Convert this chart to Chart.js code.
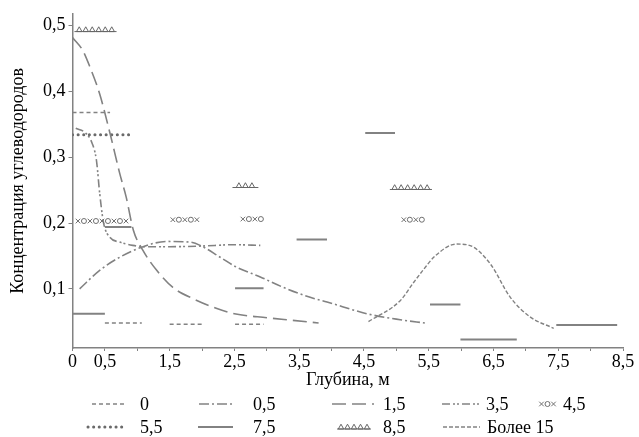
<!DOCTYPE html>
<html>
<head>
<meta charset="utf-8">
<script src="https://cdn.jsdelivr.net/npm/chart.js@4.4.1/dist/chart.umd.min.js"></script>
<style>
html, body { margin: 0; padding: 0; background: #fff; }
</style>
</head>
<body>
<canvas id="chart" width="639" height="437"></canvas>
<script>
// series names, in legend order
const seriesNames = ['0', '0,5', '1,5', '3,5', '4,5', '5,5', '7,5', '8,5', 'Более 15'];

// horizontal pieces: [x from, x to, value]
const seg0 = [[0, 0.58, 0.368], [0.5, 1.07, 0.048], [1.5, 2.02, 0.046], [2.51, 2.95, 0.046]];
const seg45 = [[0, 0.91, 0.203], [1.5, 1.97, 0.205], [2.54, 3.0, 0.206], [5.03, 5.48, 0.205]];
const seg55 = [[0, 0.91, 0.334]];
const seg75 = [[0, 0.5, 0.062], [0.5, 0.91, 0.194], [2.51, 2.95, 0.101], [3.46, 3.93, 0.175],
               [4.52, 4.98, 0.337], [5.52, 5.99, 0.076], [5.99, 6.86, 0.023], [7.47, 8.41, 0.045]];
const seg85 = [[0.03, 0.68, 0.494], [2.47, 2.87, 0.257], [4.9, 5.55, 0.254]];

// curves
const c05x = [0.11, 0.42, 0.73, 1.09, 1.45, 1.81, 1.97, 2.28, 2.53, 2.9, 3.26, 3.67, 3.93, 4.55, 5.06, 5.44];
const c05y = [0.1, 0.128, 0.148, 0.164, 0.172, 0.171, 0.166, 0.148, 0.133, 0.118, 0.102, 0.087, 0.08, 0.062, 0.053, 0.048];
const c15x = [0, 0.16, 0.27, 0.42, 0.58, 0.73, 0.83, 0.94, 1.09, 1.3, 1.55, 1.86, 2.23, 2.5, 3.0, 3.4, 3.8];
const c15y = [0.482, 0.462, 0.437, 0.396, 0.336, 0.275, 0.239, 0.189, 0.158, 0.128, 0.102, 0.085, 0.07, 0.062, 0.056, 0.052, 0.048];
const c35x = [0.05, 0.2, 0.3, 0.37, 0.42, 0.48, 0.58, 0.73, 0.93, 1.09, 1.5, 2.0, 2.5, 2.9];
const c35y = [0.344, 0.337, 0.322, 0.295, 0.245, 0.2, 0.178, 0.171, 0.166, 0.164, 0.164, 0.165, 0.167, 0.166];
const c15mx = [4.57, 5.06, 5.27, 5.41, 5.6, 5.93, 6.13, 6.45, 6.76, 7.07, 7.43];
const c15my = [0.05, 0.082, 0.11, 0.128, 0.15, 0.168, 0.166, 0.138, 0.087, 0.057, 0.04];

// ticks
const xTicks = [0, 0.5, 1, 1.5, 2, 2.5, 3, 3.5, 4, 4.5, 5, 5.5, 6, 6.5, 7, 7.5, 8, 8.5];
const xLabelled = [0, 0.5, 1.5, 2.5, 3.5, 4.5, 5.5, 6.5, 7.5, 8.5];
const yTicks = [0.1, 0.2, 0.3, 0.4, 0.5];

const GREY = '#828282';
const FONT = 'Liberation Serif';

function fromSegments(segs) {
    const pts = [];
    segs.forEach(s => {
        pts.push({x: s[0], y: s[2]}, {x: s[1], y: s[2]}, {x: s[1], y: null});
    });
    return pts;
}

function fromCurve(xs, ys) {
    return xs.map((x, i) => ({x: x, y: ys[i]}));
}

function drawMarkerRun(ctx, type, x1, x2, y, color) {
    const step = type === 'tri' ? 6.5 : 6;
    const n = Math.max(1, Math.floor((x2 - x1) / step));
    const off = ((x2 - x1) - (n - 1) * step) / 2;
    ctx.save();
    ctx.strokeStyle = color;
    ctx.fillStyle = color;
    ctx.lineWidth = 1;
    ctx.setLineDash([]);
    if (type === 'tri') {
        ctx.beginPath();
        ctx.moveTo(x1, y + 2);
        ctx.lineTo(x2, y + 2);
        ctx.stroke();
    }
    for (let j = 0; j < n; j++) {
        const x = x1 + off + j * step;
        ctx.beginPath();
        if (type === 'tri') {
            ctx.moveTo(x - 2.7, y + 2);
            ctx.lineTo(x, y - 2.8);
            ctx.lineTo(x + 2.7, y + 2);
            ctx.closePath();
            ctx.stroke();
        } else if (type === 'xo') {
            if (j % 2 === 0) {
                ctx.moveTo(x - 2.3, y - 2.3); ctx.lineTo(x + 2.3, y + 2.3);
                ctx.moveTo(x + 2.3, y - 2.3); ctx.lineTo(x - 2.3, y + 2.3);
            } else {
                ctx.arc(x, y, 2.5, 0, Math.PI * 2);
            }
            ctx.stroke();
        }
    }
    ctx.restore();
}

const markerLines = {
    id: 'markerLines',
    afterDatasetsDraw(chart) {
        const ctx = chart.ctx;
        chart.data.datasets.forEach((ds, i) => {
            if (!ds.marker) return;
            const pts = chart.getDatasetMeta(i).data;
            for (let k = 0; k < pts.length - 1; k++) {
                const a = pts[k], b = pts[k + 1];
                if (a.skip || b.skip) continue;
                drawMarkerRun(ctx, ds.marker, a.x, b.x, a.y, ds.borderColor);
            }
        });
    }
};

// legend laid out as in the source: two rows
const legendSlots = [
    {sx: 92, ex: 125, tx: 140, y: 404}, {sx: 199, ex: 233, tx: 253, y: 404},
    {sx: 332, ex: 374, tx: 383, y: 404}, {sx: 442, ex: 479, tx: 486, y: 404},
    {sx: 537, ex: 558, tx: 563, y: 404},
    {sx: 88, ex: 123, tx: 140, y: 427}, {sx: 198, ex: 233, tx: 253, y: 427},
    {sx: 337, ex: 371, tx: 383, y: 427}, {sx: 443, ex: 480, tx: 487, y: 427}
];

const gridLegend = {
    id: 'gridLegend',
    afterDraw(chart) {
        const ctx = chart.ctx;
        chart.data.datasets.forEach((ds, i) => {
            const s = legendSlots[i];
            if (!s) return;
            if (ds.marker) {
                drawMarkerRun(ctx, ds.marker, s.sx, s.ex, s.y, ds.borderColor);
            } else {
                ctx.save();
                ctx.strokeStyle = ds.borderColor;
                ctx.lineWidth = ds.borderWidth;
                ctx.lineCap = ds.borderCapStyle || 'butt';
                ctx.setLineDash(ds.borderDash || []);
                ctx.beginPath();
                ctx.moveTo(s.sx, s.y);
                ctx.lineTo(s.ex, s.y);
                ctx.stroke();
                ctx.restore();
            }
            ctx.save();
            ctx.fillStyle = '#000';
            ctx.font = '18px "' + FONT + '"';
            ctx.textBaseline = 'alphabetic';
            ctx.fillText(ds.label, s.tx, s.y + 6);
            ctx.restore();
        });
    }
};

function lineSet(i, data, dash, width, extra) {
    return Object.assign({
        label: seriesNames[i],
        data: data,
        borderColor: GREY,
        borderWidth: width,
        borderDash: dash,
        pointRadius: 0,
        pointHitRadius: 0,
        fill: false,
        spanGaps: false,
        tension: 0
    }, extra || {});
}

const datasets = [
    lineSet(0, fromSegments(seg0), [4, 3], 1.6),
    lineSet(1, fromCurve(c05x, c05y), [10, 3, 2, 3], 1.6, {cubicInterpolationMode: 'monotone'}),
    lineSet(2, fromCurve(c15x, c15y), [14, 6], 1.6, {cubicInterpolationMode: 'monotone'}),
    lineSet(3, fromCurve(c35x, c35y), [8, 3, 2, 2, 2, 3], 1.6, {cubicInterpolationMode: 'monotone'}),
    lineSet(4, fromSegments(seg45), [], 1, {showLine: false, marker: 'xo', borderColor: '#6e6e6e'}),
    lineSet(5, fromSegments(seg55), [0.1, 5.5], 3, {borderCapStyle: 'round', borderColor: '#6a6a6a'}),
    lineSet(6, fromSegments(seg75), [], 2),
    lineSet(7, fromSegments(seg85), [], 1, {showLine: false, marker: 'tri', borderColor: '#666666'}),
    lineSet(8, fromCurve(c15mx, c15my), [4, 2], 1.4, {cubicInterpolationMode: 'monotone'})
];

const tickFont = {family: FONT, size: 18};

const config = {
    type: 'line',
    data: {datasets: datasets},
    options: {
        responsive: false,
        animation: false,
        devicePixelRatio: 1,
        layout: {padding: {left: 0, right: 16, top: 13, bottom: 44}},
        plugins: {
            legend: {display: false},
            tooltip: {enabled: false}
        },
        scales: {
            x: {
                type: 'linear',
                min: 0,
                max: 8.5,
                afterBuildTicks: s => { s.ticks = xTicks.map(v => ({value: v})); },
                afterFit: s => { s.height = 45; },
                ticks: {
                    autoSkip: false,
                    maxRotation: 0,
                    padding: 0,
                    color: '#000',
                    font: tickFont,
                    callback: v => xLabelled.includes(v) ? String(v).replace('.', ',') : ''
                },
                grid: {drawOnChartArea: false, drawTicks: true, tickLength: 3, color: GREY, lineWidth: 1},
                border: {color: GREY, width: 1.5},
                title: {display: true, text: 'Глубина, м', color: '#000', font: tickFont, padding: {top: 0, bottom: 2}}
            },
            y: {
                min: 0.01,
                max: 0.518,
                afterBuildTicks: s => { s.ticks = yTicks.map(v => ({value: v})); },
                afterFit: s => { s.width = 72.5; },
                ticks: {
                    padding: 3,
                    color: '#000',
                    font: tickFont,
                    callback: v => v.toFixed(1).replace('.', ',')
                },
                grid: {drawOnChartArea: false, drawTicks: true, tickLength: 4, color: GREY, lineWidth: 1},
                border: {color: GREY, width: 1.5},
                title: {display: true, text: 'Концентрация углеводородов', color: '#000', font: tickFont, padding: {top: 7, bottom: 0}}
            }
        }
    },
    plugins: [markerLines, gridLegend]
};

const hydrocarbonChart = new Chart(document.getElementById('chart'), config);
</script>
</body>
</html>
